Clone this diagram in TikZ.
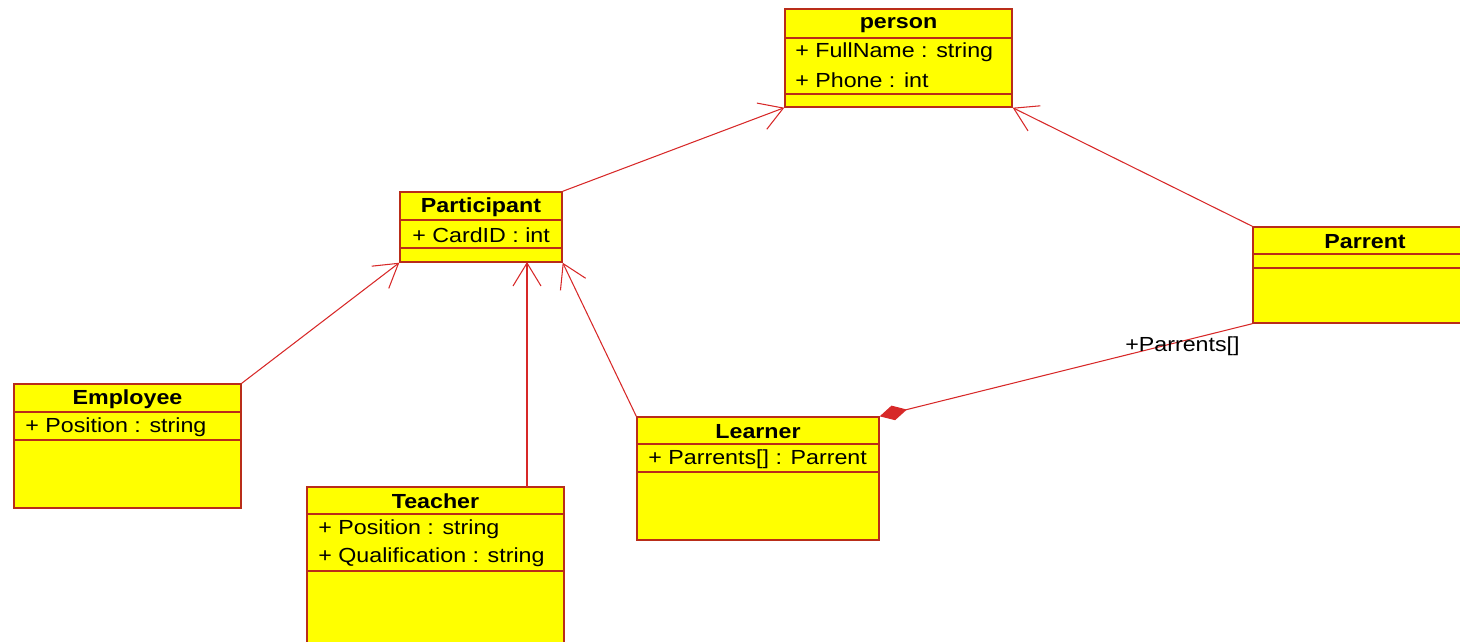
\documentclass[tikz,border=0pt]{standalone}
\usepackage{fontspec}
\setmainfont{Liberation Sans}[FakeStretch=1.14]
\usetikzlibrary{arrows.meta,fit}
\definecolor{boxred}{RGB}{185,45,25}
\definecolor{linkred}{RGB}{215,40,40}
\definecolor{umlyellow}{RGB}{255,255,0}
\tikzset{
  classbox/.style={draw=boxred, fill=umlyellow, line width=0.8pt, inner sep=0pt},
  sepline/.style={draw=boxred, line width=0.8pt},
  classname/.style={font=\fontsize{11.6}{13}\selectfont\bfseries, inner sep=0pt},
  attr/.style={font=\fontsize{11.6}{13}\selectfont, anchor=west, inner sep=0pt},
  generalize/.style={draw=linkred, line width=0.6pt, -{Straight Barb[length=0.46cm, width=0.56cm]}},
  composite/.style={draw=linkred, line width=0.6pt, -{Diamond[length=0.56cm, width=0.3cm]}}
}
\begin{document}
\begin{tikzpicture}[x=0.02cm, y=-0.02cm]
  \useasboundingbox (0,0) rectangle (1460,642);
  \node[classbox, fit={(785,9) (1012,107)}] (person) {};
  \draw[sepline] (785,38) -- (1012,38) (785,94) -- (1012,94);
  \node[classname] (personname) at (898.5,25) {person};
  \node[attr] (fullname) at (795,52) {+ FullName : string};
  \node[attr] (phone) at (795,80) {+ Phone : int};

  \node[classbox, fit={(400,192) (562,262)}] (participant) {};
  \draw[sepline] (400,220) -- (562,220) (400,248) -- (562,248);
  \node[classname] (participantname) at (481,207.5) {Participant};
  \node[attr] (cardid) at (412,235.5) {+ CardID : int};

  \node[classbox, fit={(1253,227) (1477,323)}] (parrent) {};
  \draw[sepline] (1253,254) -- (1477,254) (1253,268) -- (1477,268);
  \node[classname] (parrentname) at (1365,241.5) {Parrent};

  \node[classbox, fit={(14,384) (241,508)}] (employee) {};
  \draw[sepline] (14,412) -- (241,412) (14,440) -- (241,440);
  \node[classname] (employeename) at (127.5,399.5) {Employee};
  \node[attr] (emplposition) at (25,427.5) {+ Position : string};

  \node[classbox, fit={(307,487) (564,660)}] (teacher) {};
  \draw[sepline] (307,514) -- (564,514) (307,571) -- (564,571);
  \node[classname] (teachername) at (435.5,501.5) {Teacher};
  \node[attr] (teachposition) at (318,529.5) {+ Position : string};
  \node[attr] (qualification) at (318,557.5) {+ Qualification : string};

  \node[classbox, fit={(637,417) (879,540)}] (learner) {};
  \draw[sepline] (637,444) -- (879,444) (637,472) -- (879,472);
  \node[classname] (learnername) at (758,431.5) {Learner};
  \node[attr] (parrents) at (648,459.5) {+ Parrents[] : Parrent};

  \coordinate (teachertop) at (527,487);
  \coordinate (participantfoot) at (527,262);
  \begin{scope}[generalize]
    \draw (participant.north east) -- (person.south west);
    \draw (parrent.north west) -- (person.south east);
    \draw (employee.north east) -- (participant.south west);
    \draw (teachertop) -- (participantfoot);
    \draw (learner.north west) -- (participant.south east);
  \end{scope}
  \draw[composite] (parrent.south west) -- (learner.north east);
  \node[attr] (rolelabel) at (1125,346.5) {+Parrents[]};
\end{tikzpicture}
\end{document}
